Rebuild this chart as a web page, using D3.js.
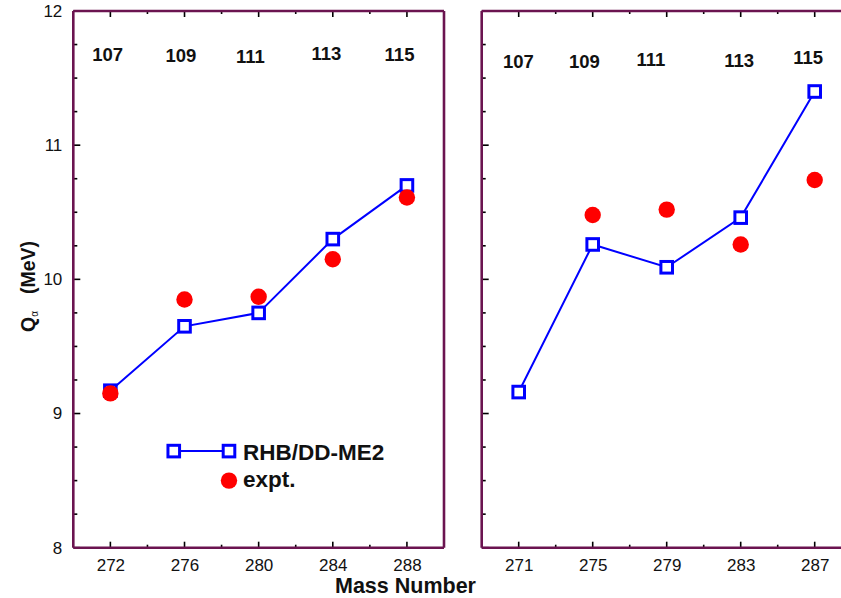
<!DOCTYPE html>
<html><head><meta charset="utf-8">
<script src="https://cdn.jsdelivr.net/npm/d3@7"></script>
<style>
html,body{margin:0;padding:0;background:#fff;}
svg{display:block;font-family:"Liberation Sans",Arial,Helvetica,sans-serif;}
</style></head>
<body>
<svg id="chart" width="841" height="598"></svg>
<script>
// ---- data ----
const leftMass = [272, 276, 280, 284, 288];
const leftRHB  = [9.17, 9.65, 9.75, 10.30, 10.70];
const leftExpt = [9.15, 9.85, 9.87, 10.15, 10.61];
const leftZ    = ["107", "109", "111", "113", "115"];
const leftZx   = [271.85, 275.81, 279.55, 283.66, 287.6];
const leftZy   = [11.627, 11.622, 11.61, 11.635, 11.63];

const rightMass = [271, 275, 279, 283, 287];
const rightRHB  = [9.16, 10.26, 10.09, 10.46, 11.40];
const rightExptMass = [275, 279, 283, 287];
const rightExpt = [10.48, 10.52, 10.26, 10.74];
const rightZ    = ["107", "109", "111", "113", "115"];
const rightZx   = [270.98, 274.55, 278.15, 282.92, 286.65];
const rightZy   = [11.578, 11.575, 11.59, 11.585, 11.605];

const yTicks = [8, 9, 10, 11, 12];
const legendLabels = ["RHB/DD-ME2", "expt."];

// ---- layout ----
const svg = d3.select("#chart");
const yTop = 11, yBot = 547.7;
const frameColor = "#6b1450";
const blue = "#0000ff", red = "#ff0000";

const y = d3.scaleLinear().domain([8, 12]).range([yBot, yTop]);

function panel(x0, x1, domain, mass, rhb, exptMass, expt, zs, zx, zy, showYLabels, rightBorder) {
  const x = d3.scaleLinear().domain(domain).range([x0, x1]);
  const g = svg.append("g");

  const majorX = d3.range(domain[0] + 2, domain[1] + 0.01, 4);
  const minorX = d3.range(domain[0] + 4, domain[1], 4);
  const minorY = d3.range(8.25, 12, 0.25).filter(v => Math.abs(v - Math.round(v)) > 0.01);

  // bottom axis labels
  const xb = d3.axisBottom(x).tickValues(majorX).tickFormat(d3.format("d")).tickSize(0).tickPadding(11);
  const gb = g.append("g").attr("transform", `translate(0,${yBot})`).call(xb);
  gb.select(".domain").remove();
  gb.selectAll("text").attr("font-size", 17).attr("fill", "#111")
    .attr("font-family", "'Liberation Sans',Arial,Helvetica,sans-serif");

  const tickG = g.append("g").attr("stroke", "#000").attr("stroke-width", 1.6);
  majorX.forEach(v => {
    tickG.append("line").attr("x1", x(v)).attr("x2", x(v)).attr("y1", yBot).attr("y2", yBot - 6);
    tickG.append("line").attr("x1", x(v)).attr("x2", x(v)).attr("y1", yTop).attr("y2", yTop + 6);
  });
  minorX.forEach(v => {
    tickG.append("line").attr("x1", x(v)).attr("x2", x(v)).attr("y1", yBot).attr("y2", yBot - 3);
    tickG.append("line").attr("x1", x(v)).attr("x2", x(v)).attr("y1", yTop).attr("y2", yTop + 3);
  });
  yTicks.forEach(v => {
    tickG.append("line").attr("x1", x0).attr("x2", x0 + 7).attr("y1", y(v)).attr("y2", y(v));
  });
  minorY.forEach(v => {
    tickG.append("line").attr("x1", x0).attr("x2", x0 + 4).attr("y1", y(v)).attr("y2", y(v));
  });
  if (showYLabels) {
    const ya = d3.axisLeft(y).tickValues(yTicks).tickFormat(d3.format("d")).tickSize(0).tickPadding(11);
    const gy = g.append("g").attr("transform", `translate(${x0},0)`).call(ya);
    gy.select(".domain").remove();
    gy.selectAll("text").attr("font-size", 17).attr("fill", "#111")
      .attr("font-family", "'Liberation Sans',Arial,Helvetica,sans-serif");
  }

  // frame
  const fr = g.append("g").attr("stroke", frameColor).attr("stroke-width", 2.6).attr("fill", "none");
  fr.append("line").attr("x1", x0).attr("x2", x0).attr("y1", yTop).attr("y2", yBot);
  fr.append("line").attr("x1", x0).attr("x2", x1).attr("y1", yTop).attr("y2", yTop);
  fr.append("line").attr("x1", x0).attr("x2", x1).attr("y1", yBot).attr("y2", yBot);
  if (rightBorder) fr.append("line").attr("x1", x1).attr("x2", x1).attr("y1", yTop).attr("y2", yBot);

  // Z labels
  g.append("g").selectAll("text").data(zs).join("text")
    .attr("x", (d, i) => x(zx[i])).attr("y", (d, i) => y(zy[i]))
    .attr("text-anchor", "middle").attr("font-weight", "bold").attr("font-size", 18.5)
    .attr("fill", "#111").text(d => d);

  // RHB line + squares
  const pts = mass.map((m, i) => [m, rhb[i]]);
  const line = d3.line().x(d => x(d[0])).y(d => y(d[1]));
  g.append("path").attr("d", line(pts)).attr("fill", "none").attr("stroke", blue).attr("stroke-width", 2);
  const s = 11.6;
  g.append("g").selectAll("rect").data(pts).join("rect")
    .attr("x", d => x(d[0]) - s / 2).attr("y", d => y(d[1]) - s / 2)
    .attr("width", s).attr("height", s)
    .attr("fill", "#fff").attr("stroke", blue).attr("stroke-width", 3);

  // expt circles
  g.append("g").selectAll("circle").data(exptMass.map((m, i) => [m, expt[i]])).join("circle")
    .attr("cx", d => x(d[0])).attr("cy", d => y(d[1])).attr("r", 8.2).attr("fill", red);
  return x;
}

const xL = panel(73.3, 444, [270, 290], leftMass, leftRHB, leftMass, leftExpt, leftZ, leftZx, leftZy, true, true);
panel(481.7, 851.7, [269, 289], rightMass, rightRHB, rightExptMass, rightExpt, rightZ, rightZx, rightZy, false, false);

// legend
const lg = svg.append("g");
const lx1 = xL(275.42), lx2 = xL(278.4), ly1 = y(8.72), ly2 = y(8.5);
lg.append("line").attr("x1", lx1).attr("x2", lx2).attr("y1", ly1).attr("y2", ly1).attr("stroke", blue).attr("stroke-width", 2);
[lx1, lx2].forEach(cx => lg.append("rect").attr("x", cx - 5.8).attr("y", ly1 - 5.8).attr("width", 11.6).attr("height", 11.6)
  .attr("fill", "#fff").attr("stroke", blue).attr("stroke-width", 3));
lg.append("circle").attr("cx", lx2).attr("cy", ly2).attr("r", 8.2).attr("fill", red);
lg.append("text").attr("x", lx2 + 14).attr("y", ly1 + 8.5).attr("font-weight", "bold").attr("font-size", 22.5).attr("fill", "#111").text(legendLabels[0]);
lg.append("text").attr("x", lx2 + 14).attr("y", ly2 + 6.5).attr("font-weight", "bold").attr("font-size", 22.5).attr("fill", "#111").text(legendLabels[1]);

// axis titles
svg.append("text").attr("x", 335).attr("y", 593).attr("font-weight", "bold").attr("font-size", 21.5).attr("fill", "#111").text("Mass Number");
const yl = svg.append("text").attr("transform", "translate(35,332) rotate(-90)").attr("font-weight", "bold").attr("font-size", 19.5).attr("fill", "#111");
yl.append("tspan").text("Q");
yl.append("tspan").attr("font-size", 10).attr("font-weight", "normal").attr("dy", 3).text("α");
yl.append("tspan").attr("dy", -3).attr("dx", 17).text("(MeV)");
</script>
</body></html>
